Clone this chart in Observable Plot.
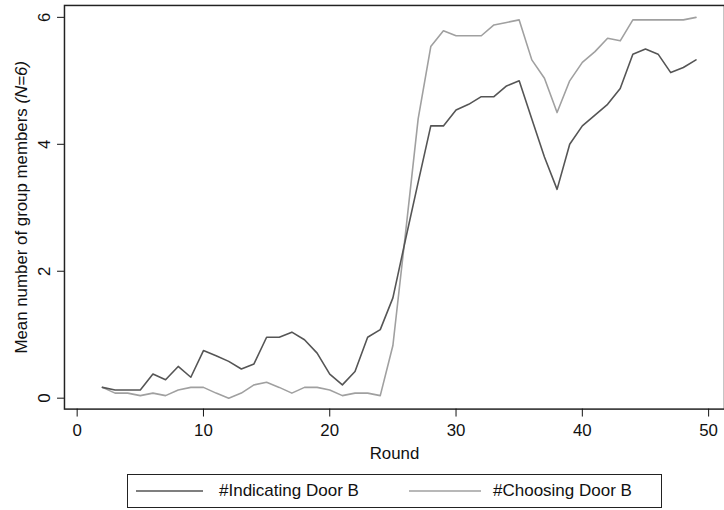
<!DOCTYPE html>
<html>
<head>
<meta charset="utf-8">
<script src="https://cdn.jsdelivr.net/npm/d3@7"></script>
<script src="https://cdn.jsdelivr.net/npm/@observablehq/plot@0.6"></script>
<style>
  html, body { margin: 0; padding: 0; background: #fff; overflow: hidden; width: 724px; height: 510px; }
  #chart { position: absolute; left: 0; top: 0; }
  #legend { position: absolute; left: 127px; top: 474px; width: 535px; height: 34px; border: 1px solid #222;
            font-family: "Liberation Sans", Arial, sans-serif; font-size: 17px; color: #111; box-sizing: border-box; }
  .item { position: absolute; top: 0; height: 32px; display: flex; align-items: center; }
  .item svg { display: block; }
</style>
</head>
<body>
<div id="chart"></div>
<div id="legend"></div>
<script>
const rounds = [2,3,4,5,6,7,8,9,10,11,12,13,14,15,16,17,18,19,20,21,22,23,24,25,26,27,28,29,30,31,32,33,34,35,36,37,38,39,40,41,42,43,44,45,46,47,48,49];
const indicating = [0.17,0.13,0.13,0.13,0.38,0.29,0.5,0.33,0.75,0.67,0.58,0.46,0.54,0.96,0.96,1.04,0.92,0.71,0.38,0.21,0.42,0.96,1.08,1.58,2.5,3.4,4.29,4.29,4.54,4.63,4.75,4.75,4.92,5.0,4.4,3.8,3.29,4.0,4.29,4.46,4.63,4.88,5.42,5.5,5.42,5.13,5.21,5.33];
const choosing = [0.17,0.08,0.08,0.04,0.08,0.04,0.13,0.17,0.17,0.08,0,0.08,0.21,0.25,0.17,0.08,0.17,0.17,0.13,0.04,0.08,0.08,0.04,0.83,2.6,4.4,5.54,5.79,5.71,5.71,5.71,5.88,5.92,5.96,5.33,5.04,4.5,5.0,5.29,5.46,5.67,5.63,5.96,5.96,5.96,5.96,5.96,6.0];
const seriesNames = ["#Indicating Door B", "#Choosing Door B"];
const seriesColors = ["#555555", "#a0a0a0"];
const xTicks = [0, 10, 20, 30, 40, 50];
const yTicks = [0, 2, 4, 6];

const dataInd = rounds.map((r, i) => ({round: r, value: indicating[i]}));
const dataCho = rounds.map((r, i) => ({round: r, value: choosing[i]}));

const font = "'Liberation Sans', Arial, sans-serif";

const chart = Plot.plot({
  width: 730,
  height: 466,
  marginLeft: 64.5,
  marginRight: 0,
  marginTop: 5,
  marginBottom: 54,
  style: {fontFamily: font, fontSize: "17px", color: "#111", background: "#fff"},
  x: {domain: [-1.005, 51.256]},
  y: {domain: [-0.172, 6.1875]},
  marks: [
    Plot.frame({stroke: "#222", strokeWidth: 1.5}),
    Plot.axisX({ticks: xTicks, tickSize: 8, tickPadding: 7, tickFormat: d => String(d),
      label: "Round", labelAnchor: "center", labelArrow: "none", labelOffset: 50, fontSize: 17}),
    Plot.axisY({ticks: yTicks, tickSize: 7, tickPadding: 8, tickRotate: -90, tickFormat: d => String(d),
      label: "Mean number of group members (N=6)", labelAnchor: "center", labelArrow: "none", labelOffset: 50, fontSize: 17}),
    Plot.line(dataCho, {x: "round", y: "value", stroke: seriesColors[1], strokeWidth: 1.6}),
    Plot.line(dataInd, {x: "round", y: "value", stroke: seriesColors[0], strokeWidth: 1.6})
  ]
});
document.getElementById("chart").appendChild(chart);

// italicize "(N=6)" in the y-axis title
chart.querySelectorAll("text").forEach(t => {
  if (t.textContent === "Mean number of group members (N=6)") {
    t.textContent = "Mean number of group members ";
    const ts = document.createElementNS("http://www.w3.org/2000/svg", "tspan");
    ts.setAttribute("font-style", "italic");
    ts.textContent = "(N=6)";
    t.appendChild(ts);
  }
});

// legend
const legend = document.getElementById("legend");
const itemLefts = [8, 281];
const lineLens = [67, 72];
const gaps = [16, 12];
seriesNames.forEach((name, i) => {
  const item = document.createElement("div");
  item.className = "item";
  item.style.left = itemLefts[i] + "px";
  item.innerHTML = `<svg width="${lineLens[i]}" height="4"><line x1="0" x2="${lineLens[i]}" y1="2" y2="2" stroke="${seriesColors[i]}" stroke-width="1.6"/></svg><span style="margin-left:${gaps[i]}px">${name}</span>`;
  legend.appendChild(item);
});
</script>
</body>
</html>
